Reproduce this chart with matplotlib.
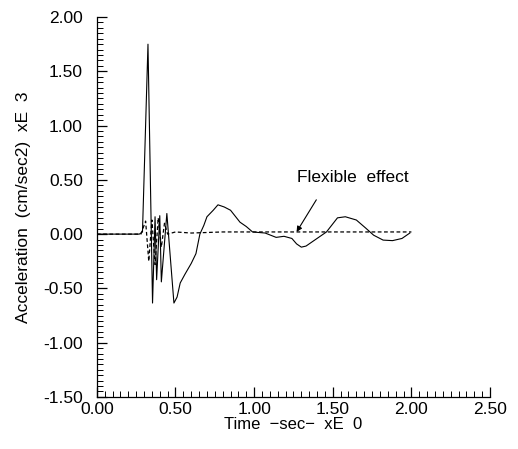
import numpy as np
import matplotlib.pyplot as plt
from matplotlib.ticker import MultipleLocator, FormatStrFormatter

# total acceleration (solid)
t_total = [0.00, 0.27, 0.29, 0.325, 0.354, 0.37, 0.38, 0.40, 0.41, 0.445, 0.49,
           0.51, 0.53, 0.56, 0.60, 0.63, 0.655, 0.68, 0.70, 0.74, 0.77, 0.81,
           0.85, 0.91, 0.95, 0.99, 1.07, 1.14, 1.19,
           1.24, 1.27, 1.30, 1.33, 1.40, 1.46, 1.53, 1.58, 1.65, 1.71, 1.76,
           1.82, 1.88, 1.94, 1.99]
a_total = [0.00, 0.00, 0.02, 1.75, -0.635, 0.16, -0.42, 0.17, -0.44, 0.19, -0.635,
           -0.58, -0.45, -0.37, -0.27, -0.18, 0.00, 0.08, 0.16, 0.22, 0.27, 0.25,
           0.22, 0.11, 0.07, 0.02, 0.01, -0.03, -0.02,
           -0.04, -0.09, -0.12, -0.11, -0.04, 0.02, 0.15, 0.16, 0.13, 0.055, -0.01,
           -0.055, -0.06, -0.04, 0.01]

# flexible effect (dashed)
t_flex = [0.00, 0.28, 0.31, 0.33, 0.35, 0.37, 0.39, 0.41, 0.43, 0.45, 0.50,
          0.60, 0.80, 1.00, 1.50, 2.00]
a_flex = [0.00, 0.00, 0.12, -0.25, 0.13, -0.28, 0.15, -0.12, 0.10, 0.00, 0.02,
          0.01, 0.02, 0.02, 0.02, 0.02]

plt.rcParams['font.family'] = ['Liberation Sans', 'DejaVu Sans']

fig = plt.figure(figsize=(5.18, 4.49), dpi=100)
ax = fig.add_axes([0.187, 0.116, 0.759, 0.846])

ax.plot(t_total, a_total, color='black', lw=0.8)
ax.plot(t_flex, a_flex, color='black', lw=0.9, ls=(0, (3, 2)))

ax.set_xlim(0, 2.5)
ax.set_ylim(-1.5, 2.0)
ax.xaxis.set_major_locator(MultipleLocator(0.5))
ax.xaxis.set_minor_locator(MultipleLocator(0.05))
ax.yaxis.set_major_locator(MultipleLocator(0.5))
ax.yaxis.set_minor_locator(MultipleLocator(0.05))
ax.xaxis.set_major_formatter(FormatStrFormatter('%.2f'))
ax.yaxis.set_major_formatter(FormatStrFormatter('%.2f'))

for s in ['top', 'right']:
    ax.spines[s].set_visible(False)
for s in ['left', 'bottom']:
    ax.spines[s].set_linewidth(0.9)

ax.tick_params(which='major', direction='in', length=7, width=0.9, labelsize=12.5)
ax.tick_params(axis='y', which='major', pad=10)
ax.tick_params(axis='x', which='major', pad=4)
ax.tick_params(which='minor', direction='in', length=4, width=0.7)

ax.set_xlabel('Time  \u2212sec\u2212  xE  0', fontsize=12, labelpad=0)
ax.set_ylabel('Acceleration  (cm/sec2)  xE  3', fontsize=12.5, labelpad=9)

ax.annotate('Flexible  effect', xy=(1.27, 0.02), xytext=(1.63, 0.52),
            ha='center', va='center', fontsize=12.5,
            arrowprops=dict(arrowstyle='-|>', color='black', lw=0.8,
                            mutation_scale=8, shrinkA=10, shrinkB=0,
                            relpos=(0.25, 0.0)))

fig.savefig('out.png', dpi=100)
